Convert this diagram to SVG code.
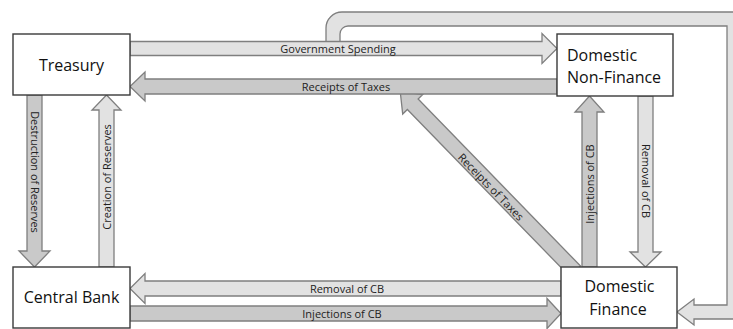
<svg xmlns="http://www.w3.org/2000/svg" width="733" height="329" viewBox="0 0 733 329">
<defs>
<style>
.lt{fill:#e2e2e2;stroke:#7f7f7f;stroke-width:1.3;stroke-linejoin:miter}
.dk{fill:#c9c9c9;stroke:#7f7f7f;stroke-width:1.3;stroke-linejoin:miter}
.box{fill:#ffffff;stroke:#3a3a3a;stroke-width:1.4}
.lbl{font-family:"Open Sans","Liberation Sans",sans-serif;font-size:11px;fill:#222;text-anchor:middle}
.nt{font-family:"Open Sans","Liberation Sans",sans-serif;font-size:16px;fill:#111}
</style>
</defs>
<rect width="733" height="329" fill="#ffffff"/>
<g id="connectors">
  <path id="loop" class="lt" d="M326,42 V28 A16,16 0 0 1 342,12 H741 V319 H694 V325 L677,312 L694,299 V305 H727 V26 H348 A8,8 0 0 0 340,34 V42 Z"/>
  <g id="diag-taxes">
    <polygon class="dk" transform="translate(571,267) rotate(225.8)" points="-6,-7.5 227,-7.5 227,-14 245,0 227,14 227,7.5 -6,7.5"/>
    <text class="lbl" transform="translate(491,187) rotate(45.8)" x="0" y="4">Receipts of Taxes</text>
  </g>
  <g id="gov-spending">
    <polygon class="lt" points="130,41.5 542,41.5 542,33.5 557,48.5 542,63.5 542,55.5 130,55.5"/>
    <text class="lbl" x="338" y="52.5">Government Spending</text>
  </g>
  <g id="receipts-taxes">
    <polygon class="dk" points="557,79 145,79 145,72 130,86.5 145,101 145,94 557,94"/>
    <text class="lbl" x="346" y="90.5">Receipts of Taxes</text>
  </g>
  <g id="removal-cb-h">
    <polygon class="lt" points="561,281 145,281 145,273.5 130,288.5 145,303.5 145,296 561,296"/>
    <text class="lbl" x="347" y="292.5">Removal of CB</text>
  </g>
  <g id="injections-cb-h">
    <polygon class="dk" points="130,306 547,306 547,298.5 561,313.5 547,328.5 547,321 130,321"/>
    <text class="lbl" x="342" y="317.5">Injections of CB</text>
  </g>
  <g id="destruction">
    <polygon class="dk" points="27,95 27,251 19,251 34.5,267 50,251 42,251 42,95"/>
    <text class="lbl" transform="translate(34.5,172) rotate(90)" x="0" y="4">Destruction of Reserves</text>
  </g>
  <g id="creation">
    <polygon class="lt" points="99,267 99,110 92,110 106.5,95 121,110 114,110 114,267"/>
    <text class="lbl" transform="translate(106.5,177) rotate(-90)" x="0" y="4">Creation of Reserves</text>
  </g>
  <g id="injections-cb-v">
    <polygon class="dk" points="582,267 582,112 575,112 589.5,96 604,112 597,112 597,267"/>
    <text class="lbl" transform="translate(589.5,184) rotate(-90)" x="0" y="4">Injections of CB</text>
  </g>
  <g id="removal-cb-v">
    <polygon class="lt" points="638,96 638,252 630,252 645.5,267 661,252 653,252 653,96"/>
    <text class="lbl" transform="translate(645.5,181) rotate(90)" x="0" y="4">Removal of CB</text>
  </g>
</g>
<g id="treasury">
  <rect class="box" x="13" y="34" width="117" height="61"/>
  <text class="nt" x="71.5" y="71" text-anchor="middle">Treasury</text>
</g>
<g id="central-bank">
  <rect class="box" x="13" y="267" width="117" height="61"/>
  <text class="nt" x="71.5" y="303" text-anchor="middle">Central Bank</text>
</g>
<g id="domestic-non-finance">
  <rect class="box" x="557" y="34" width="116" height="62"/>
  <text class="nt" x="567" y="61">Domestic</text>
  <text class="nt" x="567" y="83">Non-Finance</text>
</g>
<g id="domestic-finance">
  <rect class="box" x="561" y="267" width="116" height="61"/>
  <text class="nt" x="619.5" y="292" text-anchor="middle">Domestic</text>
  <text class="nt" x="618" y="315" text-anchor="middle">Finance</text>
</g>
</svg>
